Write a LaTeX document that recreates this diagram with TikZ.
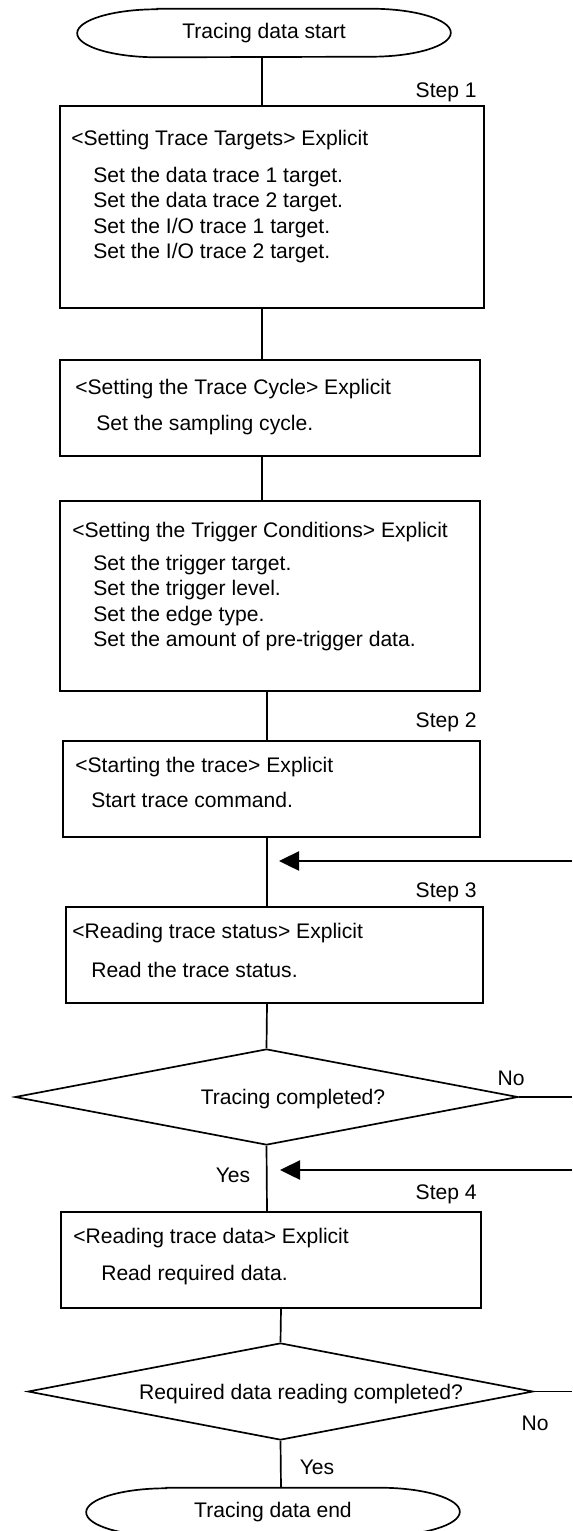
\documentclass[tikz,border=0pt]{standalone}
\usepackage{fontspec}
\setmainfont{Liberation Sans}
\usetikzlibrary{shapes.geometric,fit,arrows.meta}
\tikzset{
  term/.style={rectangle,minimum width=9.325cm,minimum height=1.2cm,inner sep=0pt},
  procbox/.style={draw,rectangle,line width=1.2pt,inner sep=0pt},
  cond/.style={draw,diamond,line width=1.2pt,inner sep=0pt},
  txt/.style={inner sep=0pt,anchor=base west},
  lbl/.style={inner sep=0pt,anchor=base},
  steplbl/.style={inner sep=0pt,anchor=base east},
  flow/.style={line width=1.2pt},
}
\begin{document}
\begin{tikzpicture}[x=0.025cm,y=-0.025cm,>={Triangle[length=0.5cm,width=0.48cm]},font=\fontsize{15pt}{18pt}\selectfont]
  \useasboundingbox (0,0) rectangle (572,1531);
  % spine positions and loop-back entries
  \coordinate (sp1) at (262,0);
  \coordinate (sp2) at (267,0);
  \coordinate (sp3) at (281,0);
  \coordinate (in1) at (572,861);
  \coordinate (tip1) at (279,861);
  \coordinate (in2) at (572,1170);
  \coordinate (tip2) at (280,1170);
  % Start
  \node[term] (start) at (264,33) {Tracing data start};
  % Step 1: trace targets
  \node[steplbl] (s1) at (477,97.5) {Step 1};
  \node[procbox,fit={(60,106) (484,308)}] (b1) {};
  \node[txt] (b1t) at (71,145.5) {<Setting Trace Targets> Explicit};
  \foreach \t [count=\i from 0] in {Set the data trace 1 target.,Set the data trace 2 target.,Set the I/O trace 1 target.,Set the I/O trace 2 target.}
    \node[txt] (b1i\i) at (93,{182.5+25.3*\i}) {\t};
  % Trace cycle
  \node[procbox,fit={(60,360) (480,456)}] (b2) {};
  \node[txt] (b2t) at (75,394.5) {<Setting the Trace Cycle> Explicit};
  \node[txt] (b2i) at (96,430.5) {Set the sampling cycle.};
  % Trigger conditions
  \node[procbox,fit={(60,501) (480,691)}] (b3) {};
  \node[txt] (b3t) at (72,537.5) {<Setting the Trigger Conditions> Explicit};
  \foreach \t [count=\i from 0] in {Set the trigger target.,Set the trigger level.,Set the edge type.,Set the amount of pre-trigger data.}
    \node[txt] (b3i\i) at (93,{570.5+25.3*\i}) {\t};
  % Step 2: start
  \node[steplbl] (s2) at (477,727.5) {Step 2};
  \node[procbox,fit={(63,741) (480,837)}] (b4) {};
  \node[txt] (b4t) at (75,772.5) {<Starting the trace> Explicit};
  \node[txt] (b4i) at (91,807.5) {Start trace command.};
  % Step 3: status
  \node[steplbl] (s3) at (477,897.5) {Step 3};
  \node[procbox,fit={(66,907) (483,1003)}] (b5) {};
  \node[txt] (b5t) at (72,938.5) {<Reading trace status> Explicit};
  \node[txt] (b5i) at (91,977.5) {Read the trace status.};
  % Decision 1
  \node[cond,minimum width=12.575cm,minimum height=2.4cm] (d1) at (266.5,1097) {};
  \node[lbl] (d1t) at (293,1104.5) {Tracing completed?};
  \node[lbl] (d1no) at (511,1085.5) {No};
  \node[lbl] (d1yes) at (233,1182.5) {Yes};
  % Step 4: data
  \node[steplbl] (s4) at (477,1199.5) {Step 4};
  \node[procbox,fit={(61,1212) (481,1308)}] (b6) {};
  \node[txt] (b6t) at (73,1243.5) {<Reading trace data> Explicit};
  \node[txt] (b6i) at (101,1280.5) {Read required data.};
  % Decision 2
  \node[cond,minimum width=12.625cm,minimum height=2.425cm] (d2) at (280.5,1391.5) {};
  \node[lbl] (d2t) at (301,1399.5) {Required data reading completed?};
  \node[lbl] (d2no) at (535,1430.5) {No};
  \node[lbl] (d2yes) at (317,1474.5) {Yes};
  % End
  \node[term] (finish) at (273,1512) {Tracing data end};
  % Terminal outlines (flat top, elliptic ends)
  \foreach \n in {start,finish}
    \draw[flow] ([xshift=2cm]\n.north west) -- ([xshift=-2cm]\n.north east)
      arc[start angle=90,end angle=-90,x radius=2cm,y radius=0.6cm]
      -- ([xshift=2cm]\n.south west)
      arc[start angle=270,end angle=90,x radius=2cm,y radius=0.6cm] -- cycle;
  % Connectors
  \draw[flow] (start.south -| sp1) -- (b1.north -| sp1);
  \draw[flow] (b1.south -| sp1) -- (b2.north -| sp1);
  \draw[flow] (b2.south -| sp1) -- (b3.north -| sp1);
  \draw[flow] (b3.south -| sp2) -- (b4.north -| sp2);
  \draw[flow] (b4.south -| sp2) -- (b5.north -| sp2);
  \draw[flow] (b5.south -| sp2) -- (d1.north);
  \draw[flow] (d1.south) -- (b6.north -| sp2);
  \draw[flow] (b6.south -| sp3) -- (d2.north);
  \draw[flow] (d2.south) -- (finish.north -| sp3);
  \draw[flow] (d1.east) -- (d1.east -| in1);
  \draw[flow] (d2.east) -- (d2.east -| in1);
  \draw[flow,->] (in1) -- (tip1);
  \draw[flow,->] (in2) -- (tip2);
\end{tikzpicture}
\end{document}
